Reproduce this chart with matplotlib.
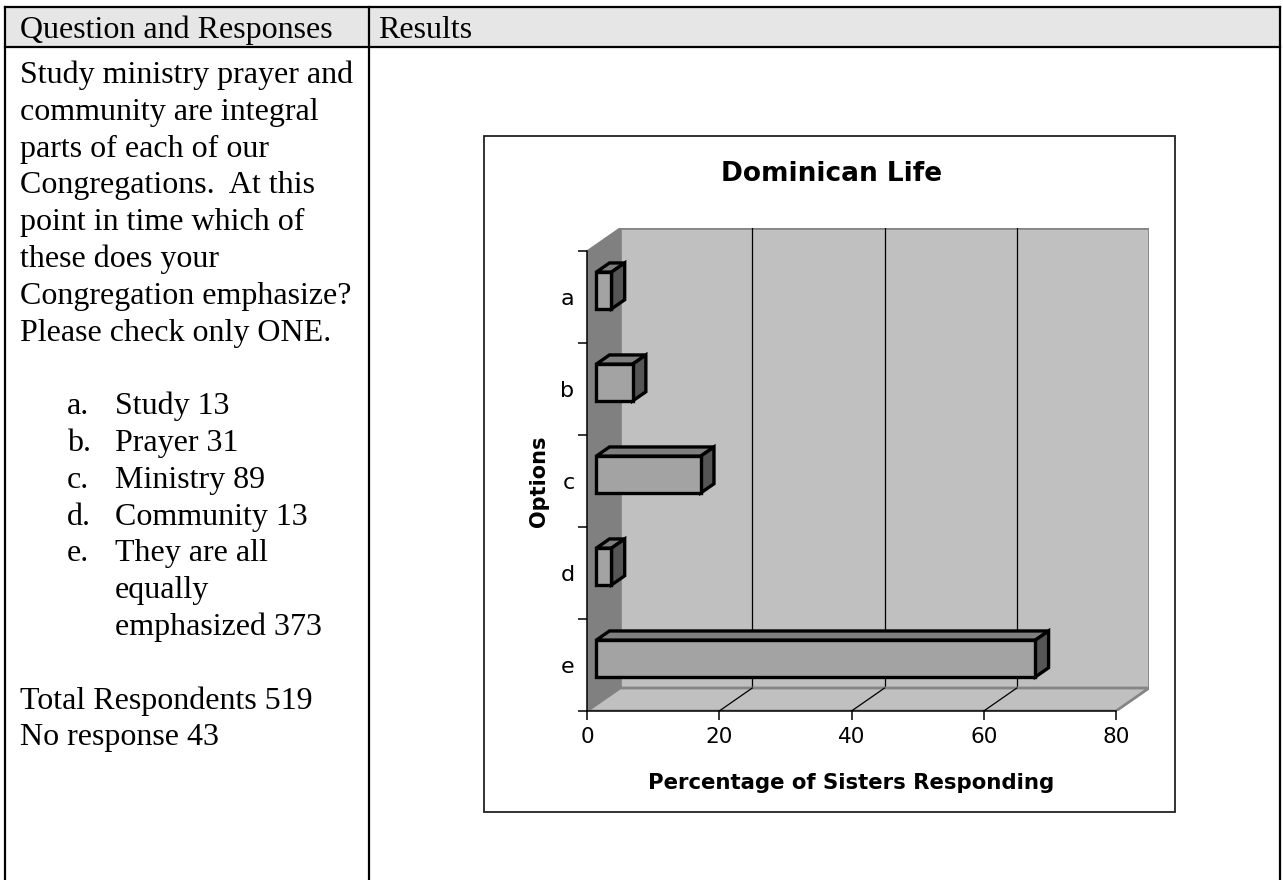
import matplotlib.pyplot as plt
from matplotlib.patches import Polygon, Rectangle

# data
options = ['a', 'b', 'c', 'd', 'e']
counts = [13, 31, 89, 13, 373]
percent = [2.3, 5.5, 15.8, 2.3, 66.4]
xticks = [0, 20, 40, 60, 80]

question = ['Study ministry prayer and',
            'community are integral',
            'parts of each of our',
            'Congregations.  At this',
            'point in time which of',
            'these does your',
            'Congregation emphasize?',
            'Please check only ONE.']
answers = ['Study', 'Prayer', 'Ministry', 'Community', 'They are all\nequally\nemphasized']
total_resp = 519
no_resp = 43

W, H = 1283, 880
fig = plt.figure(figsize=(W / 100, H / 100), dpi=100)

# page / table layer in pixel coords
bg = fig.add_axes([0, 0, 1, 1])
bg.set_xlim(0, W)
bg.set_ylim(H, 0)
bg.axis('off')

serif = dict(family='Liberation Serif', fontsize=23, color='black', va='baseline')
bg.add_patch(Rectangle((5, 7), 1275, 40, facecolor='#e6e6e6', edgecolor='none'))
for x in (5, 369, 1280):
    bg.plot([x, x], [7, H + 5], color='black', lw=1.6)
for y in (7, 47):
    bg.plot([5, 1280], [y, y], color='black', lw=1.6)
bg.text(20, 38, 'Question and Responses', **serif)
bg.text(378, 38, 'Results', **serif)

step = 36.8
base = 83
row = 0
for line in question:
    bg.text(20, base + row * step, line, **serif)
    row += 1
row += 1
for opt, ans, n in zip(options, answers, counts):
    parts = ans.split('\n')
    parts[-1] = parts[-1] + ' ' + str(n)
    bg.text(67, base + row * step, opt + '.', **serif)
    for p in parts:
        bg.text(115, base + row * step, p, **serif)
        row += 1
row += 1
bg.text(20, base + row * step, 'Total Respondents ' + str(total_resp), **serif)
row += 1
bg.text(20, base + row * step, 'No response ' + str(no_resp), **serif)

# chart frame
bg.add_patch(Rectangle((484, 136), 691, 676, facecolor='white', edgecolor='#222222', lw=1.3))
bg.text(832, 174, 'Dominican Life', family='DejaVu Sans', fontsize=19,
        fontweight='bold', ha='center', va='center')

# chart axes
ax = fig.add_axes([587 / W, (H - 711) / H, 562.1 / W, 483 / H])
ax.set_xlim(0, 85)
ax.set_ylim(-0.5, 4.75)
ax.patch.set_alpha(0)

ypos = list(range(len(options)))[::-1]   # a on top
dx, dy = 5, 0.25                          # depth of the 3d box
n = len(options)

# walls and floor
ax.add_patch(Polygon([(dx, -0.5 + dy), (80 + dx, -0.5 + dy), (80 + dx, n - 0.5 + dy), (dx, n - 0.5 + dy)],
                     closed=True, facecolor='#c0c0c0', edgecolor='#858585', lw=2, zorder=1))
ax.add_patch(Polygon([(0, -0.5), (80, -0.5), (80 + dx, -0.5 + dy), (dx, -0.5 + dy)],
                     closed=True, facecolor='#c0c0c0', edgecolor='#858585', lw=2, zorder=1.2))
ax.add_patch(Polygon([(0, -0.5), (0, n - 0.5), (dx, n - 0.5 + dy), (dx, -0.5 + dy)],
                     closed=True, facecolor='#808080', edgecolor='#808080', lw=1, zorder=1.3))
for t in xticks[1:-1]:
    ax.plot([t + dx, t + dx], [-0.5 + dy, n - 0.5 + dy], color='black', lw=0.9, zorder=1.1)
    ax.plot([t, t + dx], [-0.5, -0.5 + dy], color='black', lw=0.9, zorder=1.25)

# bars
d0, d1, h = 0.28, 0.68, 0.40
for y, v in zip(ypos, percent):
    x0 = d0 * dx
    yc = y + d0 * dy
    bot, top = yc - h / 2, yc + h / 2
    ex, ey = (d1 - d0) * dx, (d1 - d0) * dy
    kw = dict(closed=True, edgecolor='black', lw=2.4, joinstyle='miter', zorder=3)
    ax.add_patch(Polygon([(x0, top), (x0 + v, top), (x0 + v + ex, top + ey), (x0 + ex, top + ey)],
                         facecolor='#7f7f7f', **kw))
    ax.add_patch(Polygon([(x0 + v, bot), (x0 + v, top), (x0 + v + ex, top + ey), (x0 + v + ex, bot + ey)],
                         facecolor='#555555', **kw))
    ax.add_patch(Polygon([(x0, bot), (x0 + v, bot), (x0 + v, top), (x0, top)],
                         facecolor='#a3a3a3', **kw))

for s in ('top', 'right'):
    ax.spines[s].set_visible(False)
ax.spines['left'].set_bounds(-0.5, n - 0.5)
ax.spines['bottom'].set_bounds(0, 80)
for s in ('left', 'bottom'):
    ax.spines[s].set_linewidth(1.1)
    ax.spines[s].set_zorder(2)

ax.set_xticks(xticks)
ax.set_xticklabels([str(t) for t in xticks])
ax.set_yticks([i - 0.5 for i in range(n + 1)])
ax.set_yticklabels([])
ax.set_yticks(ypos, minor=True)
ax.set_yticklabels(options, minor=True)
ax.tick_params(axis='both', which='major', direction='out', length=6.5, width=1.1,
               labelsize=15.5, pad=5)
ax.tick_params(axis='y', which='minor', length=0, pad=9, labelsize=16)
for lab in ax.get_xticklabels() + ax.get_yticklabels(minor=True):
    lab.set_family('DejaVu Sans')

ax.set_xlabel('Percentage of Sisters Responding', fontsize=15.3, fontweight='bold',
              family='DejaVu Sans')
ax.xaxis.set_label_coords(40 / 85, -0.128)
ax.set_ylabel('Options', fontsize=15, fontweight='bold', family='DejaVu Sans')
ax.yaxis.set_label_coords(-0.068, 2.5 / 5.25)

fig.savefig('out.png', dpi=100)
